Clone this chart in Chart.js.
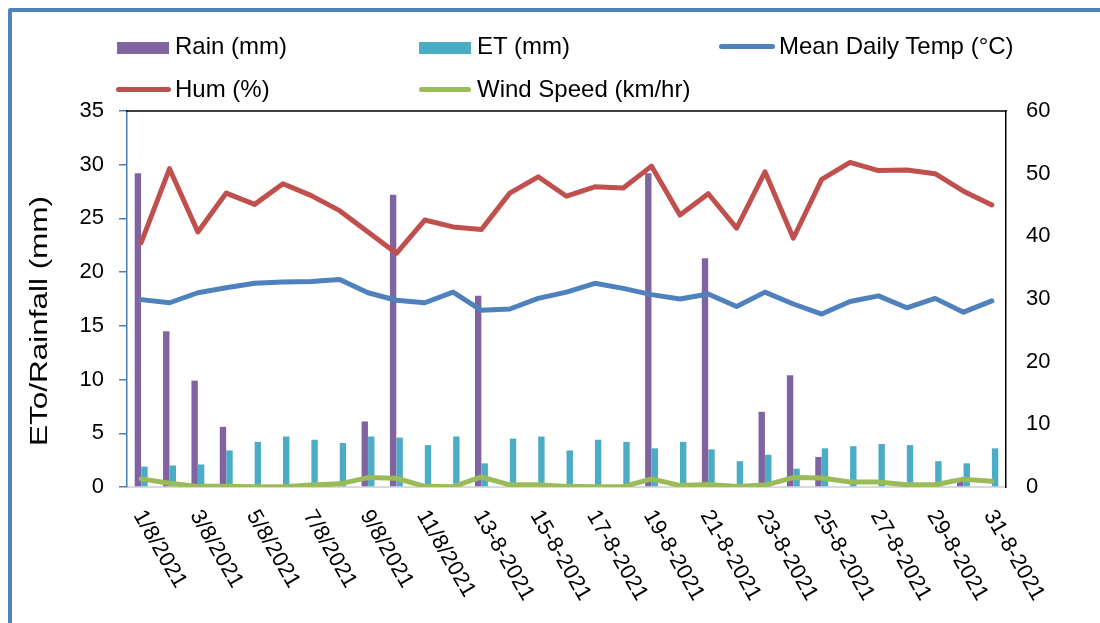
<!DOCTYPE html>
<html>
<head>
<meta charset="utf-8">
<title>Daily weather, August 2021</title>
<script src="https://cdn.jsdelivr.net/npm/chart.js@4.4.1/dist/chart.umd.min.js"></script>
<style>
  html, body { margin: 0; padding: 0; background: #fff; overflow: hidden; }
  #wrap { position: relative; width: 1100px; height: 623px; overflow: hidden;
          font-family: "Liberation Sans", Arial, sans-serif; }
  #frame { position: absolute; left: 8px; top: 8px; width: 1200px; height: 700px;
           border-left: 4px solid #4F81BD; border-top: 4px solid #4F81BD;
           border-top-left-radius: 3px; }
  #chartBox { position: absolute; left: 0; top: 0; width: 1100px; height: 623px; }
  .sw { position: absolute; }
  .txt { position: absolute; font-size: 24px; line-height: 28px; height: 28px;
         white-space: nowrap; color: #000; }
</style>
</head>
<body>
<div id="wrap">
  <div id="frame"></div>
  <div id="chartBox"><canvas id="c"></canvas></div>

  <!-- legend -->
  <div class="sw" style="left:117px;top:42px;width:52px;height:12px;background:#8064A2"></div>
  <div class="txt" style="left:175px;top:32px">Rain (mm)</div>
  <div class="sw" style="left:419px;top:42px;width:52px;height:12px;background:#4BACC6"></div>
  <div class="txt" style="left:477px;top:32px">ET (mm)</div>
  <div class="sw" style="left:719px;top:44px;width:56px;height:5px;border-radius:3px;background:#4F81BD"></div>
  <div class="txt" style="left:779px;top:32px">Mean Daily Temp (°C)</div>
  <div class="sw" style="left:116px;top:87px;width:55px;height:5px;border-radius:3px;background:#C0504D"></div>
  <div class="txt" style="left:175px;top:75px">Hum (%)</div>
  <div class="sw" style="left:419px;top:87px;width:52px;height:5px;border-radius:3px;background:#9BBB59"></div>
  <div class="txt" style="left:477px;top:75px">Wind Speed (km/hr)</div>
</div>

<script>
// Dates of August 2021
const dates = [
  '1/8/2021', '2/8/2021', '3/8/2021', '4/8/2021', '5/8/2021', '6/8/2021',
  '7/8/2021', '8/8/2021', '9/8/2021', '10/8/2021', '11/8/2021', '12/8/2021',
  '13-8-2021', '14-8-2021', '15-8-2021', '16-8-2021', '17-8-2021', '18-8-2021',
  '19-8-2021', '20-8-2021', '21-8-2021', '22-8-2021', '23-8-2021', '24-8-2021',
  '25-8-2021', '26-8-2021', '27-8-2021', '28-8-2021', '29-8-2021', '30-8-2021',
  '31-8-2021'
];

// Left axis (mm)
const rain = [29.2, 14.5, 9.9, 5.6, 0, 0, 0, 0, 6.1, 27.2, 0, 0, 17.8, 0, 0, 0,
              0, 0, 29.2, 0, 21.3, 0, 7.0, 10.4, 2.8, 0, 0, 0, 0, 0.6, 0];
const et = [1.9, 2.0, 2.1, 3.4, 4.2, 4.7, 4.4, 4.1, 4.7, 4.6, 3.9, 4.7, 2.2, 4.5, 4.7, 3.4,
            4.4, 4.2, 3.6, 4.2, 3.5, 2.4, 3.0, 1.7, 3.6, 3.8, 4.0, 3.9, 2.4, 2.2, 3.6];

// Right axis
const meanTemp = [29.9, 29.4, 31.0, 31.8, 32.5, 32.7, 32.8, 33.1, 31.0, 29.8, 29.4, 31.1,
                  28.2, 28.4, 30.1, 31.1, 32.5, 31.7, 30.7, 30.0, 30.8, 28.8, 31.1, 29.2,
                  27.6, 29.6, 30.5, 28.6, 30.1, 27.9, 29.7];
const humidity = [39.0, 50.8, 40.7, 46.9, 45.1, 48.4, 46.5, 44.1, 40.7, 37.3, 42.6, 41.5,
                  41.1, 46.9, 49.5, 46.4, 47.9, 47.7, 51.2, 43.4, 46.8, 41.3, 50.3, 39.7,
                  49.1, 51.8, 50.5, 50.6, 50.0, 47.2, 45.0];
const windSpeed = [1.3, 0.6, 0.1, 0.1, 0.05, 0.05, 0.3, 0.5, 1.5, 1.4, 0.1, 0.05, 1.6, 0.35,
                   0.35, 0.1, 0.05, 0.05, 1.3, 0.25, 0.4, 0.1, 0.3, 1.5, 1.45, 0.8, 0.8,
                   0.35, 0.35, 1.25, 0.9];

// Tick values of the two value axes
const mmTicks = [0, 5, 10, 15, 20, 25, 30, 35];
const climateTicks = [0, 10, 20, 30, 40, 50, 60];

const yTitle = 'ETo/Rainfall (mm)';
const FONT = '"Liberation Sans", Arial, sans-serif';

// Top edge of the plot frame, rotated date labels and the left axis title
const decorations = {
  id: 'decorations',
  beforeDatasetsDraw(chart) {
    const { ctx, chartArea: a } = chart;
    ctx.save();
    ctx.strokeStyle = '#000';
    ctx.lineWidth = 1.5;
    ctx.beginPath();
    ctx.moveTo(a.left - 1, a.top);
    ctx.lineTo(a.right + 1, a.top);
    ctx.stroke();
    ctx.restore();
  },
  afterDraw(chart) {
    const { ctx, chartArea: a } = chart;
    const xs = chart.scales.x;
    ctx.save();
    ctx.fillStyle = '#000';
    ctx.font = '22px ' + FONT;
    ctx.textAlign = 'left';
    ctx.textBaseline = 'middle';
    dates.forEach((d, i) => {
      if (i % 2) return;
      const px = xs.getPixelForValue(i);
      ctx.save();
      ctx.translate(px - 3, a.bottom + 25);
      ctx.rotate(Math.PI / 3);
      ctx.fillText(d, 0, 0);
      ctx.restore();
    });

    ctx.font = '23px ' + FONT;
    ctx.textAlign = 'center';
    const w = ctx.measureText(yTitle).width;
    ctx.translate(41, 321);
    ctx.rotate(-Math.PI / 2);
    ctx.scale(250 / w, 1);
    ctx.fillText(yTitle, 0, 0);
    ctx.restore();
  }
};

const lineStyle = {
  type: 'line',
  borderWidth: 5,
  pointRadius: 0,
  tension: 0,
  borderJoinStyle: 'round',
  borderCapStyle: 'round',
  fill: false,
  yAxisID: 'y1',
  order: 1
};

new Chart(document.getElementById('c'), {
  type: 'bar',
  data: {
    labels: dates,
    datasets: [
      { label: 'Rain (mm)', data: rain, backgroundColor: '#8064A2', yAxisID: 'y', order: 2,
        categoryPercentage: 0.46, barPercentage: 0.98 },
      { label: 'ET (mm)', data: et, backgroundColor: '#4BACC6', yAxisID: 'y', order: 2,
        categoryPercentage: 0.46, barPercentage: 0.98 },
      Object.assign({ label: 'Mean Daily Temp (°C)', data: meanTemp, borderColor: '#4F81BD' }, lineStyle),
      Object.assign({ label: 'Hum (%)', data: humidity, borderColor: '#C0504D' }, lineStyle),
      Object.assign({ label: 'Wind Speed (km/hr)', data: windSpeed, borderColor: '#9BBB59' }, lineStyle)
    ]
  },
  options: {
    responsive: true,
    maintainAspectRatio: false,
    animation: false,
    devicePixelRatio: 1,
    layout: { padding: { top: 111, left: 0, right: 0, bottom: 0 } },
    plugins: { legend: { display: false }, tooltip: { enabled: false } },
    scales: {
      x: {
        offset: true,
        grid: { display: false },
        border: { display: true, color: '#D9D9D9', width: 2 },
        ticks: { display: false },
        afterFit(s) { s.height = 136; }
      },
      y: {
        position: 'left',
        min: 0, max: 35,
        afterBuildTicks(s) { s.ticks = mmTicks.map(v => ({ value: v })); },
        grid: { drawOnChartArea: false, drawTicks: true, tickLength: 8, color: '#4A7EBB', lineWidth: 1.5 },
        border: { display: true, color: '#4A7EBB', width: 1.5 },
        ticks: { color: '#000', font: { size: 22, family: FONT }, padding: 15 },
        afterFit(s) { s.width = 127; }
      },
      y1: {
        position: 'right',
        min: 0, max: 60,
        afterBuildTicks(s) { s.ticks = climateTicks.map(v => ({ value: v })); },
        grid: { drawOnChartArea: false, drawTicks: false },
        border: { display: true, color: '#000', width: 1.5 },
        ticks: { color: '#000', font: { size: 22, family: FONT }, padding: 20 },
        afterFit(s) { s.width = 94; }
      }
    }
  },
  plugins: [decorations]
});
</script>
</body>
</html>
